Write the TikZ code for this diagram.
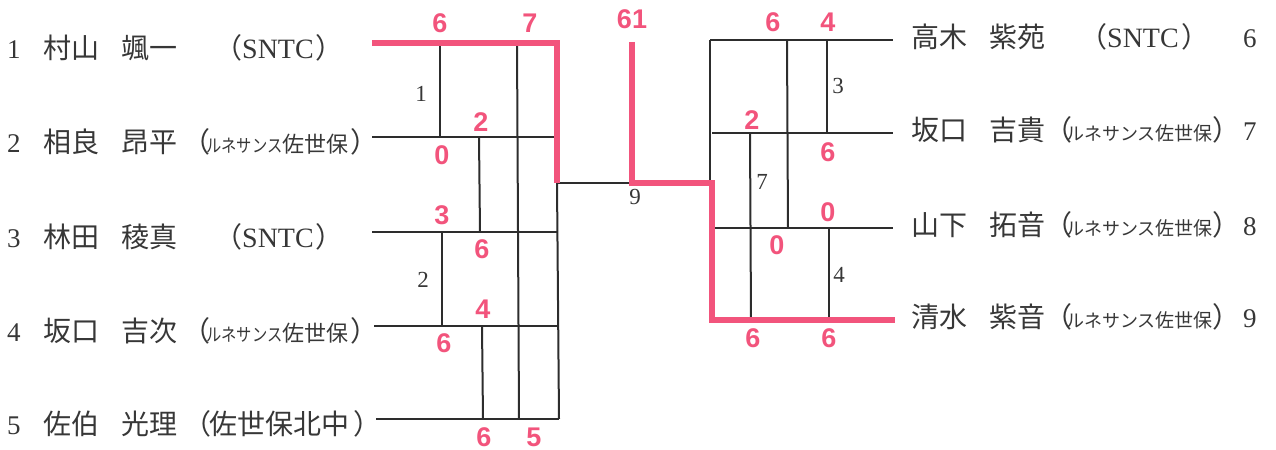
\documentclass[tikz,border=0pt]{standalone}
\usepackage{fontspec}
\setmainfont{Liberation Serif}
\newfontfamily\cjk{Noto Sans CJK JP}
\newfontfamily\scorefnt{Liberation Sans}
\definecolor{pk}{RGB}{242,84,124}
\definecolor{ln}{RGB}{45,45,45}
\definecolor{tx}{RGB}{55,55,55}
\newcommand\pc[2]{\makebox[#1bp][l]{#2}}
\newcommand\fs[1]{\fontsize{#1bp}{#1bp}\selectfont}
\newcommand\kata[1]{{\cjk\fs{18}\scalebox{#1}[1]{ルネサンス}}}
\newcommand\jp[1]{{\cjk\fs{28}#1}}
\tikzset{
  bline/.style={draw=ln, line width=2bp},
  win/.style={draw=pk, line width=6bp, line join=miter},
  score/.style={text=pk, font=\scorefnt\bfseries\fs{27}, inner sep=0pt},
  match/.style={text=tx, font=\fs{23}, inner sep=0pt},
  pname/.style={text=tx, inner sep=0pt, anchor=base west},
}
\begin{document}
\begin{tikzpicture}[x=1bp, y=-1bp]
\useasboundingbox (0,0) rectangle (1276,450);
% ---- left player line ends
\coordinate (a1) at (372,43);  \coordinate (b1) at (557,43);
\coordinate (a2) at (372,137); \coordinate (b2) at (557,137);
\coordinate (a3) at (372,232); \coordinate (b3) at (558,232);
\coordinate (a4) at (374,326); \coordinate (b4) at (558,326);
\coordinate (a5) at (376,419); \coordinate (b5) at (559,419);
\coordinate (lm) at (557,183);
\coordinate (ct) at (632,42);
\coordinate (cm) at (632,183);
\coordinate (rm) at (712,183);
% ---- right player line ends
\coordinate (c1) at (710,40);  \coordinate (d1) at (893,40);
\coordinate (c2) at (712,133); \coordinate (d2) at (893,133);
\coordinate (c3) at (714,228); \coordinate (d3) at (893,228);
\coordinate (c4) at (712,320); \coordinate (d4) at (895,320);

% ---- left black lines
\draw[bline] (a2) -- (b2);
\draw[bline] (a3) -- (b3);
\draw[bline] (a4) -- (b4);
\draw[bline] (a5) -- (b5);
\draw[bline] (440,43) -- (440,137);
\draw[bline] (479,137) -- (480,232);
\draw[bline] (442,232) -- (442,326);
\draw[bline] (482,326) -- (483,419);
\draw[bline] (517,43) -- (519,419);
\draw[bline] (lm) -- (b5);
\draw[bline] (lm) -- (cm);
% ---- right black lines
\draw[bline] (c1) -- (d1);
\draw[bline] (c2) -- (d2);
\draw[bline] (c3) -- (d3);
\draw[bline] (c1) -- (710,183);
\draw[bline] (787,40) -- (788,228);
\draw[bline] (827,40) -- (827,133);
\draw[bline] (750,133) -- (751,320);
\draw[bline] (829,228) -- (829,320);
% ---- winner path
\draw[win] (a1) -- (b1) -- (lm);
\draw[win] (ct) -- (cm) -- (rm) -- (c4) -- (d4);

% ---- match numbers
\node[match] (m1) at (421,94) {1};
\node[match] (m2) at (423,280) {2};
\node[match] (m3) at (838,86) {3};
\node[match] (m4) at (839,275) {4};
\node[match] (m7) at (762,182) {7};
\node[match] (m9) at (635,197) {9};

% ---- scores
\node[score] (s1) at (440,23) {6};
\node[score] (s2) at (530,23) {7};
\node[score] (s3) at (481,122) {2};
\node[score] (s4) at (442,155) {0};
\node[score] (s5) at (442,215) {3};
\node[score] (s6) at (482,249) {6};
\node[score] (s7) at (483,309) {4};
\node[score] (s8) at (444,343) {6};
\node[score] (s9) at (484,437) {6};
\node[score] (s10) at (534,437) {5};
\node[score] (s11) at (632,19) {61};
\node[score] (s12) at (773,22) {6};
\node[score] (s13) at (828,22) {4};
\node[score] (s14) at (752,120) {2};
\node[score] (s15) at (828,152) {6};
\node[score] (s16) at (828,212) {0};
\node[score] (s17) at (777,245) {0};
\node[score] (s18) at (753,338) {6};
\node[score] (s19) at (829,338) {6};

% ---- left names
\node[pname] (p1) at (7,59) {\fs{27}\pc{36}{1}\pc{78}{\jp{村山}}\pc{93}{\jp{颯一}}\jp{（}{\fs{28}SNTC}\hspace{2bp}\jp{）}};
\node[pname] (p2) at (7,153) {\fs{27}\pc{36}{2}\pc{78}{\jp{相良}}\pc{61}{\jp{昂平}}\pc{24}{\jp{（}}\kata{0.85}{\cjk\fs{22}佐世保}\hspace{2bp}\jp{）}};
\node[pname] (p3) at (7,248) {\fs{27}\pc{36}{3}\pc{78}{\jp{林田}}\pc{93}{\jp{稜真}}\jp{（}{\fs{28}SNTC}\hspace{2bp}\jp{）}};
\node[pname] (p4) at (7,342) {\fs{27}\pc{36}{4}\pc{78}{\jp{坂口}}\pc{61}{\jp{吉次}}\pc{24}{\jp{（}}\kata{0.85}{\cjk\fs{22}佐世保}\hspace{2bp}\jp{）}};
\node[pname] (p5) at (7,435) {\fs{27}\pc{36}{5}\pc{78}{\jp{佐伯}}\pc{62}{\jp{光理}}{\cjk\fs{28}\pc{26}{（}佐世保北中\hspace{4bp}）}};

% ---- right names
\node[pname] (q1) at (911,48) {\fs{27}\pc{332}{\pc{78}{\jp{高木}}\pc{90}{\jp{紫苑}}\jp{（}{\fs{28}SNTC}\hspace{3bp}\jp{）}}6};
\node[pname] (q2) at (911,141) {\fs{27}\pc{332}{\pc{78}{\jp{坂口}}\pc{55}{\jp{吉貴}}\pc{22}{\jp{（}}\kata{1}{\cjk\fs{19}佐世保}\jp{）}}7};
\node[pname] (q3) at (911,236) {\fs{27}\pc{332}{\pc{78}{\jp{山下}}\pc{55}{\jp{拓音}}\pc{22}{\jp{（}}\kata{1}{\cjk\fs{19}佐世保}\jp{）}}8};
\node[pname] (q4) at (911,328) {\fs{27}\pc{332}{\pc{78}{\jp{清水}}\pc{55}{\jp{紫音}}\pc{22}{\jp{（}}\kata{1}{\cjk\fs{19}佐世保}\jp{）}}9};
\end{tikzpicture}
\end{document}
